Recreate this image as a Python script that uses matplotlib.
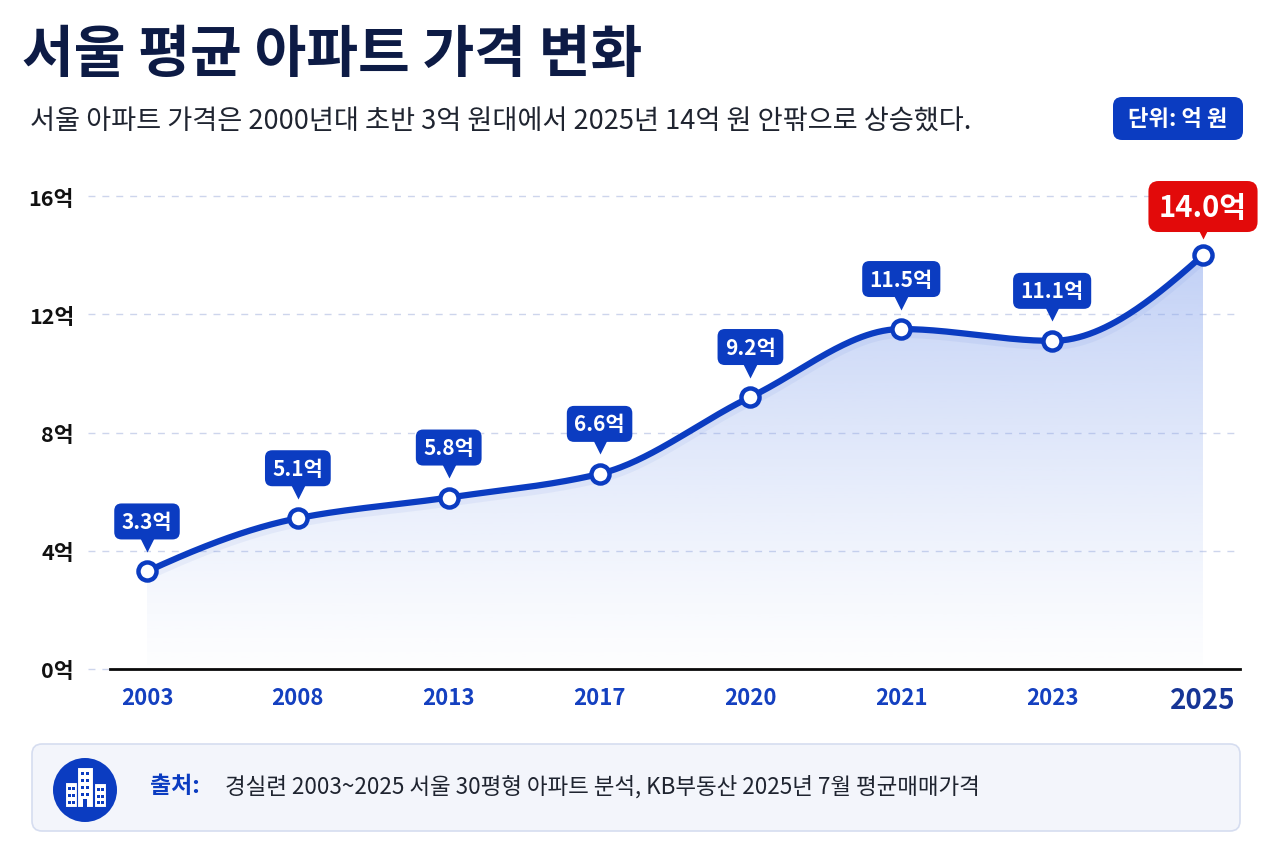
import numpy as np
import matplotlib
matplotlib.use("Agg")
import matplotlib.pyplot as plt
from matplotlib.patches import FancyBboxPatch, Circle, Rectangle, Polygon
from matplotlib.transforms import offset_copy

plt.rcParams["font.family"] = ["Noto Sans CJK KR", "DejaVu Sans"]

years = ["2003", "2008", "2013", "2017", "2020", "2021", "2023", "2025"]
prices = [3.3, 5.1, 5.8, 6.6, 9.2, 11.5, 11.1, 14.0]
labels = ["3.3억", "5.1억", "5.8억", "6.6억", "9.2억", "11.5억", "11.1억", "14.0억"]
yticks = [0, 4, 8, 12, 16]
ytick_labels = ["0억", "4억", "8억", "12억", "16억"]

title = "서울 평균 아파트 가격 변화"
subtitle = "서울 아파트 가격은 2000년대 초반 3억 원대에서 2025년 14억 원 안팎으로 상승했다."
unit_text = "단위: 억 원"
source_label = "출처:"
source_text = "경실련 2003~2025 서울 30평형 아파트 분석, KB부동산 2025년 7월 평균매매가격"

BLUE = "#0b3cc1"
NAVY = "#0d1b45"
RED = "#e20a0a"


def pchip(x, y, xs):
    x = np.asarray(x, float)
    y = np.asarray(y, float)
    h = np.diff(x)
    d = np.diff(y) / h
    n = len(x)
    m = np.zeros(n)
    for k in range(1, n - 1):
        if d[k - 1] * d[k] <= 0:
            m[k] = 0.0
        else:
            w1 = 2 * h[k] + h[k - 1]
            w2 = h[k] + 2 * h[k - 1]
            m[k] = (w1 + w2) / (w1 / d[k - 1] + w2 / d[k])

    def end_slope(h0, h1, d0, d1):
        s = ((2 * h0 + h1) * d0 - h0 * d1) / (h0 + h1)
        if np.sign(s) != np.sign(d0):
            s = 0.0
        elif np.sign(d0) != np.sign(d1) and abs(s) > abs(3 * d0):
            s = 3 * d0
        return s

    m[0] = end_slope(h[0], h[1], d[0], d[1])
    m[-1] = end_slope(h[-1], h[-2], d[-1], d[-2])
    out = np.empty_like(xs)
    for i, xv in enumerate(xs):
        k = min(np.searchsorted(x, xv, side="right") - 1, n - 2)
        k = max(k, 0)
        t = (xv - x[k]) / h[k]
        h00 = 2 * t**3 - 3 * t**2 + 1
        h10 = t**3 - 2 * t**2 + t
        h01 = -2 * t**3 + 3 * t**2
        h11 = t**3 - t**2
        out[i] = h00 * y[k] + h10 * h[k] * m[k] + h01 * y[k + 1] + h11 * h[k] * m[k + 1]
    return out


W, H = 1280, 853
fig = plt.figure(figsize=(W / 100, H / 100), dpi=100)
fig.patch.set_facecolor("white")

# overlay in pixel coordinates for title, badge and source box
bg = fig.add_axes([0, 0, 1, 1], zorder=0)
bg.set_xlim(0, W)
bg.set_ylim(H, 0)
bg.axis("off")

bg.text(22, 55, title, fontsize=40.5, fontweight="bold", color=NAVY, va="center", ha="left")
bg.text(30, 121, subtitle, fontsize=19.6, color="#1f2430", va="center", ha="left")

bg.add_patch(FancyBboxPatch((1113, 98), 130, 43, boxstyle="round,pad=0,rounding_size=9",
                            facecolor=BLUE, edgecolor="none"))
bg.text(1178, 119, unit_text, fontsize=16, fontweight="bold", color="white", ha="center", va="center")

bg.add_patch(FancyBboxPatch((32, 745), 1208, 87, boxstyle="round,pad=0,rounding_size=10",
                            facecolor="#f3f5fb", edgecolor="#d6ddf0", linewidth=1.2))
bg.add_patch(Circle((85, 791), 32, facecolor=BLUE, edgecolor="none"))
for bx, by, bw, bh in [(65, 783, 12, 25), (77, 768, 16, 40), (94, 784, 12, 24)]:
    bg.add_patch(Rectangle((bx, by), bw, bh, facecolor="white", edgecolor=BLUE, linewidth=0.8))
for cx in (68, 72):
    for cy in (788, 795, 802):
        bg.add_patch(Rectangle((cx, cy), 2.5, 3, facecolor=BLUE, edgecolor="none"))
for cx in (81, 86):
    for cy in (773, 780, 787, 794):
        bg.add_patch(Rectangle((cx, cy), 2.5, 3, facecolor=BLUE, edgecolor="none"))
bg.add_patch(Rectangle((83, 800), 3.5, 8, facecolor=BLUE, edgecolor="none"))
for cx in (97, 101):
    for cy in (789, 796, 802):
        bg.add_patch(Rectangle((cx, cy), 2.5, 3, facecolor=BLUE, edgecolor="none"))

bg.text(150, 787, source_label, fontsize=16.5, fontweight="bold", color=BLUE, va="center", ha="left")
bg.text(225, 787, source_text, fontsize=16.2, color="#1f2430", va="center", ha="left")

# main chart
left_px, right_px, bottom_px, top_px = 110, 1240, 670, 175
ax = fig.add_axes([left_px / W, 1 - bottom_px / H, (right_px - left_px) / W, (bottom_px - top_px) / H],
                  zorder=1)
ax.patch.set_visible(False)
px_per_unit = (670 - 197) / 16
x_first, x_step = 147, (1203 - 147) / 7
ymax = 16 + (197 - top_px) / px_per_unit
ax.set_ylim(0, ymax)
ax.set_xlim(-(x_first - left_px) / x_step, 7 + (right_px - 1203) / x_step)

x = np.arange(len(years))
xs = np.linspace(0, len(years) - 1, 400)
ys = pchip(x, prices, xs)

grid_x0 = -(x_first - 88) / x_step
for v in yticks:
    ax.plot([grid_x0, ax.get_xlim()[1]], [v, v], color="#cdd5ec", lw=1, ls=(0, (5, 5)),
            clip_on=False, zorder=1)

# gradient fill under the curve
grad = np.linspace(0, 1, 256).reshape(-1, 1)
rgba = np.zeros((256, 1, 4))
rgba[..., 0] = 0x8f / 255
rgba[..., 1] = 0xaa / 255
rgba[..., 2] = 0xee / 255
rgba[..., 3] = 0.02 + 0.62 * grad[:, 0:1] ** 1.2
img = ax.imshow(rgba, extent=[0, len(years) - 1, 0.15, 16], origin="lower", aspect="auto", zorder=2)
poly = Polygon(np.column_stack([np.r_[xs, xs[-1], xs[0]], np.r_[ys, 0.15, 0.15]]),
               closed=True, transform=ax.transData, facecolor="none", edgecolor="none")
ax.add_patch(poly)
img.set_clip_path(poly)

shadow = offset_copy(ax.transData, fig=fig, y=-3, units="points")
ax.plot(xs, ys, color="#0b3cc1", lw=7, alpha=0.05, transform=shadow, zorder=3, solid_capstyle="round")
ax.plot(xs, ys, color=BLUE, lw=4.5, zorder=4, solid_capstyle="round")
ax.plot(x, prices, ls="none", marker="o", ms=13, mfc="white", mec=BLUE, mew=3.2, zorder=5)

for i, (xv, yv, lab) in enumerate(zip(x, prices, labels)):
    last = i == len(x) - 1
    color = RED if last else BLUE
    size = 21 if last else 15
    box_off = 35 if last else 36
    tri = offset_copy(ax.transData, fig=fig, y=(17.5 if last else 19), units="points")
    ax.plot([xv], [yv], marker="v", ms=(11 if last else 10), color=color, mec="none",
            transform=tri, clip_on=False, zorder=6)
    ax.annotate(lab, (xv, yv), xytext=(0, box_off), textcoords="offset points",
                ha="center", va="center", fontsize=size, fontweight="bold", color="white",
                bbox=dict(boxstyle="round,pad=0.36,rounding_size=0.35", fc=color, ec="none"),
                annotation_clip=False, zorder=7)

ax.set_yticks(yticks)
ax.set_yticklabels(ytick_labels, fontsize=15.5, fontweight="bold", color="#111111")
ax.set_xticks(x)
ax.set_xticklabels(years, fontsize=16, fontweight="bold", color="#1440c0")
last_lab = ax.get_xticklabels()[-1]
last_lab.set_fontsize(20)
last_lab.set_color("#163596")
ax.tick_params(axis="y", length=0, pad=26)
ax.tick_params(axis="x", length=0, pad=12)
for s in ["top", "right", "left"]:
    ax.spines[s].set_visible(False)
ax.spines["bottom"].set_color("#0a0a0a")
ax.spines["bottom"].set_linewidth(2)
ax.spines["bottom"].set_zorder(4)

fig.savefig("out.png", dpi=100, facecolor="white")
